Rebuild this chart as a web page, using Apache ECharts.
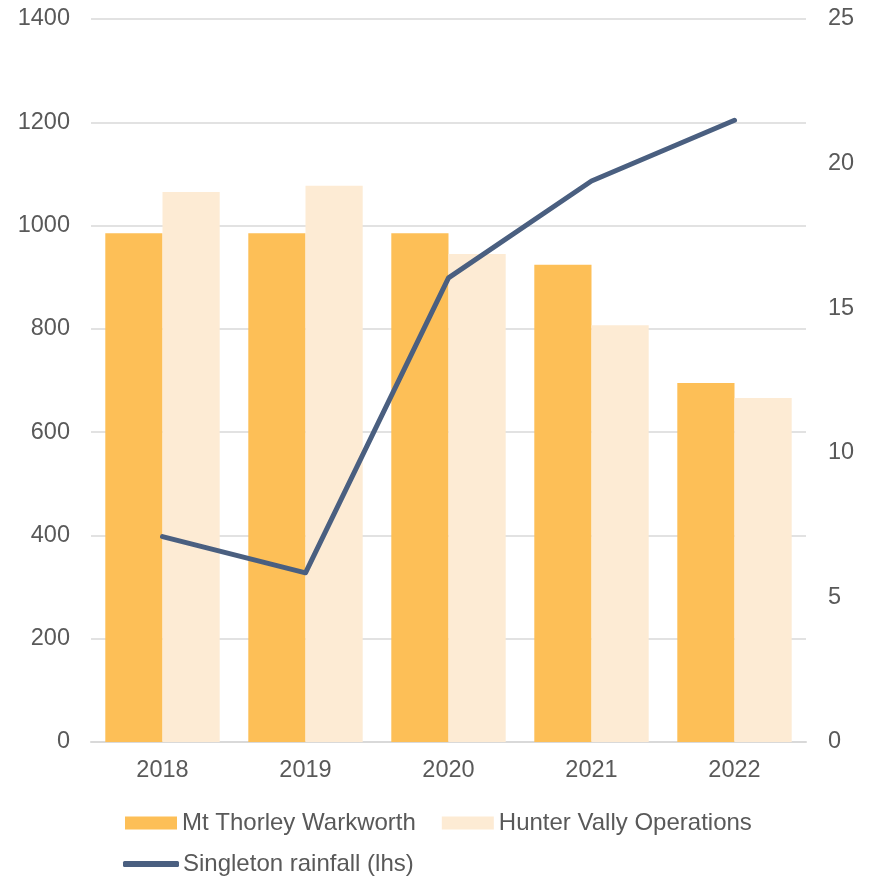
<!DOCTYPE html>
<html>
<head>
<meta charset="utf-8">
<script src="https://cdn.jsdelivr.net/npm/echarts@6/dist/echarts.min.js"></script>
<style>html,body{margin:0;padding:0;background:#fff;}#c{width:871px;height:878px;}</style>
</head>
<body>
<div id="c"></div>
<script>
const categories = ['2018', '2019', '2020', '2021', '2022'];
const mtw = [985, 985, 985, 924, 695];
const hvo = [1065, 1077, 945, 807, 666];
const rainfall = [7.1, 5.85, 16.05, 19.4, 21.5];
const leftTicks = { min: 0, max: 1400, interval: 200 };
const rightTicks = { min: 0, max: 25, interval: 5 };

const txt = '#595959';
const font = 'Liberation Sans, Arial, sans-serif';
const chart = echarts.init(document.getElementById('c'));
chart.setOption({
  animation: false,
  backgroundColor: '#fff',
  textStyle: { fontFamily: font },
  grid: { left: 91, right: 65, top: 19, bottom: 136, containLabel: false },
  legend: [
    {
      data: ['Mt Thorley Warkworth', 'Hunter Vally Operations'],
      left: 125, top: 811, padding: 0, itemWidth: 52, itemHeight: 13, itemGap: 26,
      textStyle: { color: txt, fontSize: 24, fontFamily: font },
      icon: 'rect'
    },
    {
      data: ['Singleton rainfall (lhs)'],
      left: 123, top: 852, padding: 0, itemWidth: 56, itemHeight: 6,
      textStyle: { color: txt, fontSize: 24, fontFamily: font, padding: [0, 0, 0, -1] },
      icon: 'roundRect'
    }
  ],
  xAxis: {
    type: 'category', data: categories,
    axisLine: { lineStyle: { color: '#D9D9D9', width: 2 } },
    axisTick: { show: false },
    axisLabel: { color: txt, fontSize: 23.5, margin: 17, fontFamily: font }
  },
  yAxis: [
    {
      type: 'value', min: leftTicks.min, max: leftTicks.max, interval: leftTicks.interval,
      axisLine: { show: false }, axisTick: { show: false },
      axisLabel: { color: txt, fontSize: 23.5, margin: 21, fontFamily: font, formatter: v => String(v) },
      splitLine: { lineStyle: { color: '#D9D9D9', width: 1.5 } }
    },
    {
      type: 'value', min: rightTicks.min, max: rightTicks.max, interval: rightTicks.interval,
      axisLine: { show: false }, axisTick: { show: false },
      axisLabel: { color: txt, fontSize: 23.5, margin: 22, fontFamily: font },
      splitLine: { show: false }
    }
  ],
  series: [
    {
      name: 'Mt Thorley Warkworth', type: 'bar', data: mtw,
      barGap: '0%', barCategoryGap: '20%',
      itemStyle: { color: '#FDBF57' }
    },
    {
      name: 'Hunter Vally Operations', type: 'bar', data: hvo,
      itemStyle: { color: '#FDEBD4' }
    },
    {
      name: 'Singleton rainfall (lhs)', type: 'line', yAxisIndex: 1, data: rainfall,
      symbol: 'none',
      lineStyle: { color: '#4A5F80', width: 5, cap: 'round', join: 'round' },
      itemStyle: { color: '#4A5F80' }
    }
  ]
});
</script>
</body>
</html>
